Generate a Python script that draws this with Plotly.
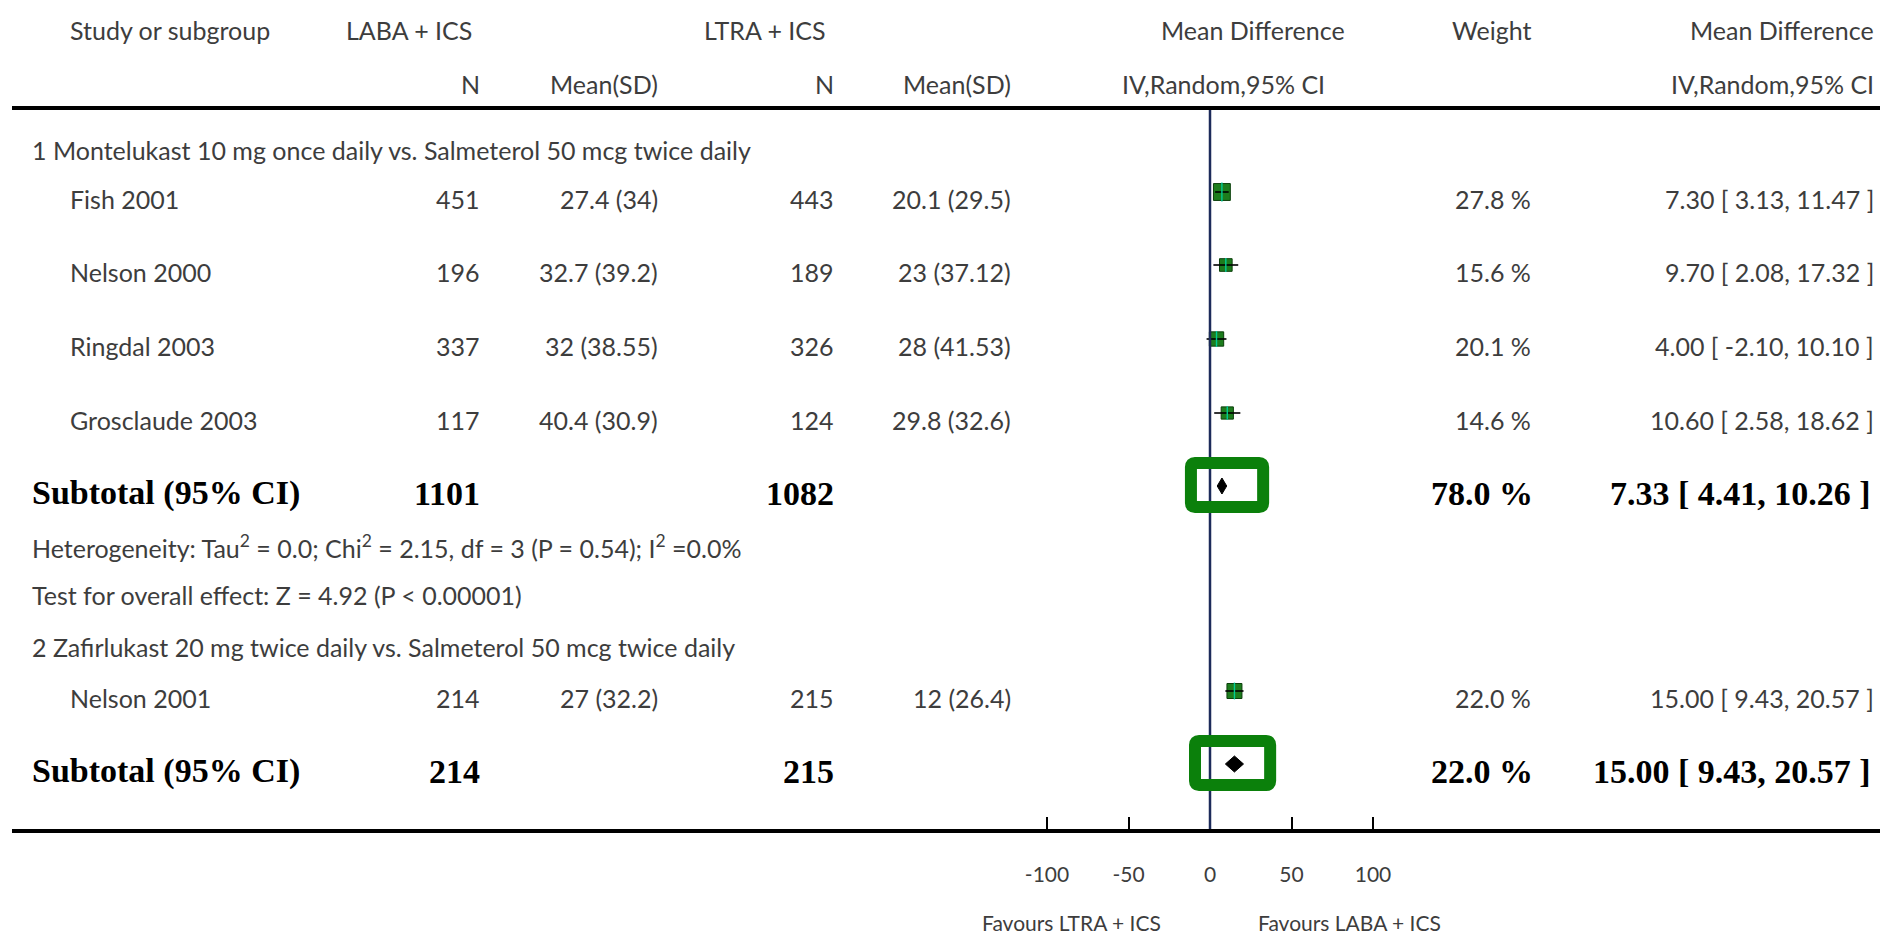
import math
import plotly.graph_objects as go

# ---- data -------------------------------------------------------------
studies = ["Fish 2001", "Nelson 2000", "Ringdal 2003", "Grosclaude 2003", "Nelson 2001"]
study_group = [1, 1, 1, 1, 2]
n_laba = [451, 196, 337, 117, 214]
mean_sd_laba = ["27.4 (34)", "32.7 (39.2)", "32 (38.55)", "40.4 (30.9)", "27 (32.2)"]
n_ltra = [443, 189, 326, 124, 215]
mean_sd_ltra = ["20.1 (29.5)", "23 (37.12)", "28 (41.53)", "29.8 (32.6)", "12 (26.4)"]
md = [7.30, 9.70, 4.00, 10.60, 15.00]
ci_lo = [3.13, 2.08, -2.10, 2.58, 9.43]
ci_hi = [11.47, 17.32, 10.10, 18.62, 20.57]
weight = [27.8, 15.6, 20.1, 14.6, 22.0]

group_titles = [
    "1 Montelukast 10 mg once daily vs. Salmeterol 50 mcg twice daily",
    "2 Zafirlukast 20 mg twice daily vs. Salmeterol 50 mcg twice daily",
]
sub_n_laba = [1101, 214]
sub_n_ltra = [1082, 215]
sub_md = [7.33, 15.00]
sub_lo = [4.41, 9.43]
sub_hi = [10.26, 20.57]
sub_weight = [78.0, 22.0]

heterogeneity = "Heterogeneity: Tau<sup>2</sup> = 0.0; Chi<sup>2</sup> = 2.15, df = 3 (P = 0.54); I<sup>2</sup> =0.0%"
overall_effect = "Test for overall effect: Z = 4.92 (P < 0.00001)"

tick_vals = [-100, -50, 0, 50, 100]
tick_text = ["-100", "-50", "0", "50", "100"]
favours_left = "Favours LTRA + ICS"
favours_right = "Favours LABA + ICS"

# ---- layout constants -------------------------------------------------
W, H = 1880, 939
TOP_RULE, AXIS_Y = 110, 829          # page rows of the top rule and the axis
ZERO_PX, PX_PER_UNIT = 1210, 1.63    # where 0 sits, and the scale of the MD axis
LEFT_PX = 12

SANS = "Lato"
SERIF = "Liberation Serif"
GREY = "#3d3d3d"
BODY = 25
BOLD = 34

# y positions (page pixel rows) of the forest rows
study_rows = [192, 265, 339, 413, 691]
subtotal_rows = [486, 764]
group_rows = [150, 647]
het_row, overall_row = 546, 595
TEXT_DROP = 7   # text baseline sits a little below the marker centre


def px(x):
    return x / W


def py(y):
    return 1 - y / H


fig = go.Figure()

# study squares, sized by weight
sq_sizes = [3.2 * math.sqrt(w) for w in weight]
fig.add_trace(go.Scatter(
    x=md, y=study_rows, mode="markers",
    marker=dict(symbol="square", size=sq_sizes, color="#1d7d1d", opacity=1,
                line=dict(color="#0b3f0b", width=1)),
    hoverinfo="skip", showlegend=False,
))
# confidence intervals as plain black segments, drawn over the squares
ci_x, ci_y = [], []
for lo, hi, r in zip(ci_lo, ci_hi, study_rows):
    ci_x += [lo, hi, None]
    ci_y += [r, r, None]
fig.add_trace(go.Scatter(
    x=ci_x, y=ci_y, mode="lines", line=dict(color="black", width=1.6),
    hoverinfo="skip", showlegend=False,
))
fig.add_trace(go.Scatter(
    x=md, y=study_rows, mode="markers",
    marker=dict(symbol="line-ns-open", size=[s * 0.8 for s in sq_sizes], opacity=1,
                line=dict(color="black", width=1.4)),
    hoverinfo="skip", showlegend=False,
))

# pooled diamonds
DIAMOND_HALF = 8
for m, lo, hi, r in zip(sub_md, sub_lo, sub_hi, subtotal_rows):
    fig.add_trace(go.Scatter(
        x=[lo, m, hi, m, lo], y=[r, r - DIAMOND_HALF, r, r + DIAMOND_HALF, r],
        mode="lines", fill="toself", fillcolor="black",
        line=dict(color="black", width=1),
        hoverinfo="skip", showlegend=False,
    ))

shapes = []
# line of no effect
shapes.append(dict(type="line", xref="x", yref="y domain", x0=0, x1=0, y0=0, y1=1,
                   line=dict(color="#1c2b5a", width=2.5), layer="above"))


# green highlight frames around the pooled estimates
def frame(x0, x1, y0, y1, r=4):
    rx = r / PX_PER_UNIT
    return (f"M {x0 + rx},{y0} L {x1 - rx},{y0} Q {x1},{y0} {x1},{y0 + r} "
            f"L {x1},{y1 - r} Q {x1},{y1} {x1 - rx},{y1} "
            f"L {x0 + rx},{y1} Q {x0},{y1} {x0},{y1 - r} "
            f"L {x0},{y0 + r} Q {x0},{y0} {x0 + rx},{y0} Z")


for (fx0, fx1), r in zip([(-11.7, 32.6), (-9.2, 36.9)], subtotal_rows):
    shapes.append(dict(type="path", xref="x", yref="y",
                       path=frame(fx0, fx1, r - 23, r + 21),
                       line=dict(color="#0b800b", width=12), layer="above"))

ann = []


def text(x, y, s, anchor="left", size=BODY, color=GREY, family=SANS, yref="y"):
    ann.append(dict(x=px(x), xref="paper", y=y, yref=yref, text=s, showarrow=False,
                    xanchor=anchor, yanchor="middle",
                    font=dict(family=family, size=size, color=color)))


# column headers
for x, y, s, a in [
    (68, 30, "Study or subgroup", "left"),
    (344, 30, "LABA + ICS", "left"),
    (702, 30, "LTRA + ICS", "left"),
    (1253, 30, "Mean Difference", "center"),
    (1533, 30, "Weight", "right"),
    (1876, 30, "Mean Difference", "right"),
    (482, 84, "N", "right"),
    (660, 84, "Mean(SD)", "right"),
    (836, 84, "N", "right"),
    (1013, 84, "Mean(SD)", "right"),
    (1223, 84, "IV,Random,95% CI", "center"),
    (1876, 84, "IV,Random,95% CI", "right"),
]:
    text(x, py(y), s, a, yref="paper")

# subgroup titles
for g, r in zip(group_titles, group_rows):
    text(30, r, g)

# study rows
for i, r in enumerate(study_rows):
    y = r + TEXT_DROP
    text(68, y, studies[i])
    text(482, y, str(n_laba[i]), "right")
    text(660, y, mean_sd_laba[i], "right")
    text(836, y, str(n_ltra[i]), "right")
    text(1013, y, mean_sd_ltra[i], "right")
    text(1533, y, f"{weight[i]:.1f} %", "right")
    text(1876, y, f"{md[i]:.2f} [ {ci_lo[i]:.2f}, {ci_hi[i]:.2f} ]", "right")

# subtotal rows
for i, r in enumerate(subtotal_rows):
    y = r + TEXT_DROP
    kw = dict(size=BOLD, color="black", family=SERIF)
    text(30, y, "<b>Subtotal (95% CI)</b>", **kw)
    text(482, y, f"<b>{sub_n_laba[i]}</b>", "right", **kw)
    text(836, y, f"<b>{sub_n_ltra[i]}</b>", "right", **kw)
    text(1535, y, f"<b>{sub_weight[i]:.1f} %</b>", "right", **kw)
    text(1873, y, f"<b>{sub_md[i]:.2f} [ {sub_lo[i]:.2f}, {sub_hi[i]:.2f} ]</b>", "right", **kw)

text(30, het_row, heterogeneity)
text(30, overall_row, overall_effect)

# favours labels under the axis
text(1071, py(922), favours_left, "center", size=21, yref="paper")
text(1349, py(922), favours_right, "center", size=21, yref="paper")

x0 = (LEFT_PX - ZERO_PX) / PX_PER_UNIT
x1 = (W - ZERO_PX) / PX_PER_UNIT

fig.update_layout(
    width=W, height=H, margin=dict(l=0, r=0, t=0, b=0),
    paper_bgcolor="white", plot_bgcolor="white",
    showlegend=False,
    xaxis=dict(domain=[px(LEFT_PX), 1], range=[x0, x1], showgrid=False, zeroline=False,
               showline=True, linecolor="black", linewidth=4, mirror=True,
               ticks="inside", ticklen=12, tickwidth=1.5, tickcolor="black",
               tickvals=tick_vals, ticktext=tick_text, ticklabelstandoff=24,
               tickfont=dict(family=SANS, size=21, color=GREY), fixedrange=True),
    yaxis=dict(domain=[py(AXIS_Y), py(TOP_RULE)], range=[AXIS_Y, TOP_RULE],
               visible=False, fixedrange=True),
    shapes=shapes, annotations=ann,
)

fig.write_html("out.html")
